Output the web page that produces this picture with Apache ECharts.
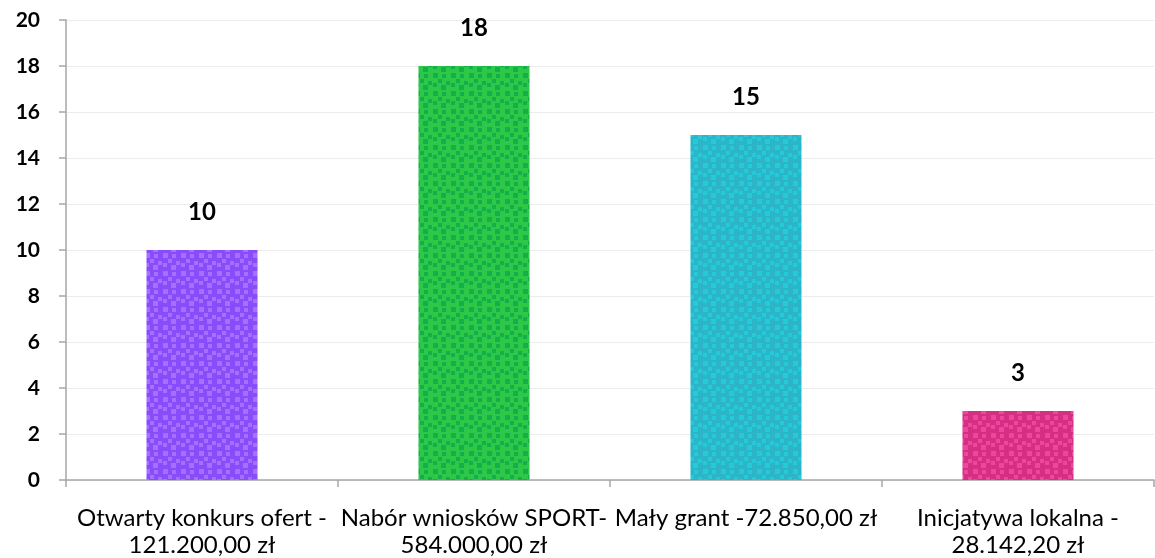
<!DOCTYPE html>
<html><head><meta charset="utf-8">
<script src="https://cdn.jsdelivr.net/npm/echarts@6/dist/echarts.min.js"></script>
<style>html,body{margin:0;padding:0;background:#fff;overflow:hidden}#c{width:1155px;height:558px}</style>
</head><body><div id="c"></div>
<script>
const categories = ["Otwarty konkurs ofert -\n121.200,00 zł", "Nabór wniosków SPORT-\n584.000,00 zł", "Mały grant -72.850,00 zł", "Inicjatywa lokalna -\n28.142,20 zł"];
const values = [10, 18, 15, 3];
const baseColors = ["#8a4cfb", "#2ec748", "#2bb5c6", "#d42f80"];
const spotColors = ["#a272ff", "#10b04a", "#22cadb", "#f044a0"];

function pattern(base, spot) {
  const c = document.createElement('canvas');
  c.width = 18; c.height = 18;
  const g = c.getContext('2d');
  g.fillStyle = base; g.fillRect(0, 0, 18, 18);
  g.fillStyle = spot;
  const sq = [[1,1,5],[10,2,4],[6,7,4],[14,9,4],[1,11,4],[9,13,5]];
  sq.forEach(s => g.fillRect(s[0], s[1], s[2], s[2]));
  return c;
}

const chart = echarts.init(document.getElementById('c'), null, {renderer: 'canvas'});
const font = 'Lato, "Open Sans", sans-serif';
chart.setOption({
  animation: false,
  grid: {left: 66, right: 1, top: 20, bottom: 78, containLabel: false, outerBoundsMode: 'none'},
  xAxis: {
    type: 'category', data: categories,
    axisLine: {lineStyle: {color: '#a6a6a6', width: 1.5}},
    axisTick: {show: true, length: 7, lineStyle: {color: '#a6a6a6', width: 1.5}},
    axisLabel: {color: '#000', fontSize: 24, fontFamily: font, lineHeight: 27, margin: 25, interval: 0}
  },
  yAxis: {
    type: 'value', min: 0, max: 20, interval: 2,
    axisLine: {show: true, lineStyle: {color: '#a6a6a6', width: 1.5}},
    axisTick: {show: true, length: 7, lineStyle: {color: '#a6a6a6', width: 1.5}},
    splitLine: {lineStyle: {color: '#ececec', width: 1}},
    axisLabel: {color: '#000', fontSize: 21, fontWeight: 'bold', fontFamily: font, margin: 26}
  },
  series: [{
    type: 'bar', barWidth: 111,
    data: values.map((v, i) => ({
      value: v,
      itemStyle: {color: {image: pattern(baseColors[i], spotColors[i]), repeat: 'repeat'}}
    })),
    label: {show: true, position: 'top', distance: 26, color: '#000', fontSize: 24, fontWeight: 'bold', fontFamily: font}
  }]
});
</script></body></html>
